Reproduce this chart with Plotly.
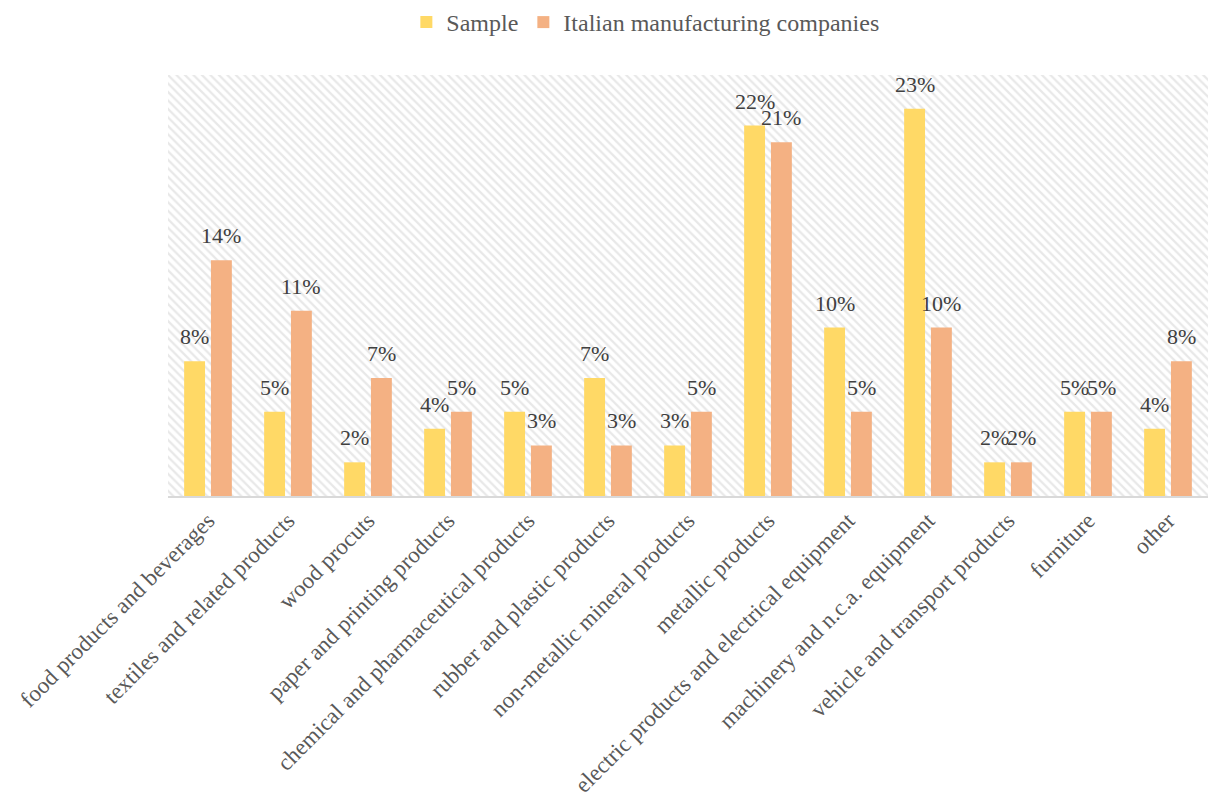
import plotly.graph_objects as go

categories = [
    "food products and beverages",
    "textiles and related products",
    "wood procuts",
    "paper and printing products",
    "chemical and pharmaceutical products",
    "rubber and plastic products",
    "non-metallic mineral products",
    "metallic products",
    "electric products and electrical equipment",
    "machinery and n.c.a. equipment",
    "vehicle and transport products",
    "furniture",
    "other",
]
sample = [8, 5, 2, 4, 5, 7, 3, 22, 10, 23, 2, 5, 4]
italian = [14, 11, 7, 5, 3, 3, 5, 21, 5, 10, 2, 5, 8]

Y_MAX = 25
FONT = "Liberation Serif, Times New Roman, serif"
BARGAP = 0.33
PLOT_W = 1209 - 168 - 1
SLOT_PX = PLOT_W / len(categories) * (1 - BARGAP) / 2

fig = go.Figure()

# hatched plot background, drawn on a hidden numeric axis underneath the bars
fig.add_trace(go.Bar(
    x=[0.5], y=[Y_MAX], width=[1],
    xaxis="x", yaxis="y",
    marker=dict(color="white", line=dict(width=0),
                pattern=dict(shape="\\", fgcolor="#d2d2d2", bgcolor="white",
                             size=6, solidity=0.38)),
    showlegend=False, hoverinfo="skip",
))

fig.add_trace(go.Bar(
    name="Sample", x=categories, y=sample,
    xaxis="x2", yaxis="y",
    marker=dict(color="#FFD966", line=dict(width=0)),
    hovertemplate="%{x}: %{y}%<extra>Sample</extra>",
))
fig.add_trace(go.Bar(
    name="Italian manufacturing companies", x=categories, y=italian,
    xaxis="x2", yaxis="y",
    marker=dict(color="#F4B183", line=dict(width=0)),
    hovertemplate="%{x}: %{y}%<extra>Italian</extra>",
))

# value labels above each bar, shifted to the bar's slot within the group
labels = []
for series, shift in ((sample, -SLOT_PX / 2), (italian, SLOT_PX / 2)):
    for cat, val in zip(categories, series):
        labels.append(dict(
            x=cat, y=val, xref="x2", yref="y", text=f"{val}%",
            showarrow=False, xanchor="center", yanchor="bottom",
            xshift=shift, yshift=10,
            font=dict(family=FONT, size=22, color="#404040"),
        ))

fig.update_layout(
    width=1209, height=811,
    margin=dict(l=168, r=1, t=74, b=315),
    paper_bgcolor="white", plot_bgcolor="white",
    barmode="group", bargap=BARGAP, bargroupgap=0.22,
    font=dict(family=FONT, color="#595959"),
    annotations=labels,
    xaxis=dict(range=[0, 1], visible=False, fixedrange=True),
    xaxis2=dict(overlaying="x", anchor="y", side="bottom",
                tickangle=-45, tickfont=dict(family=FONT, size=23, color="#595959"),
                showline=True, linecolor="#d9d9d9", linewidth=2,
                showgrid=False, ticks="", automargin=False),
    yaxis=dict(range=[0, Y_MAX], visible=False, showgrid=False,
               zeroline=False),
    legend=dict(orientation="h", x=0.459, xanchor="center", y=1.123,
                yanchor="middle", font=dict(family=FONT, size=24, color="#595959"),
                itemwidth=30, traceorder="normal"),
    showlegend=True,
)

fig.write_html("out.html")
